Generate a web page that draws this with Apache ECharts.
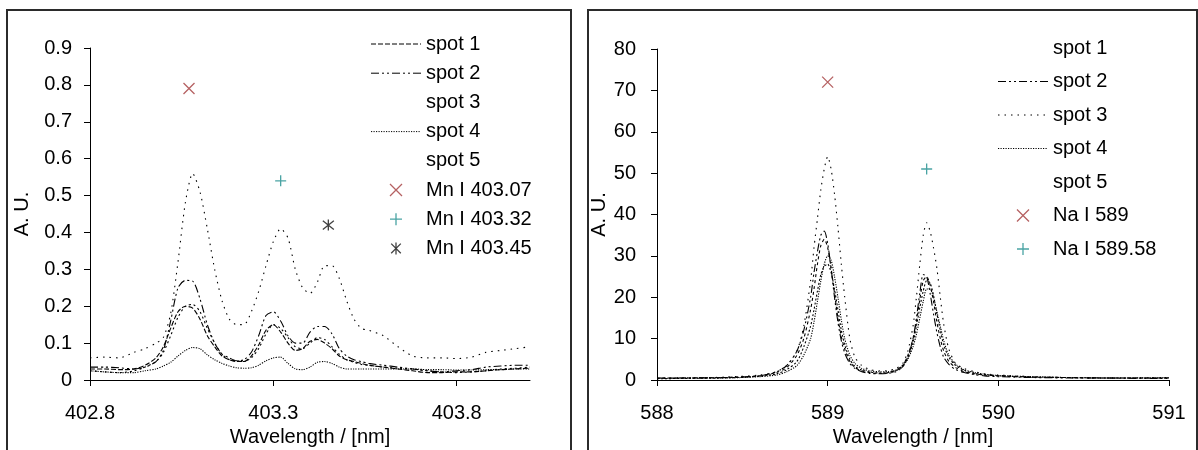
<!DOCTYPE html>
<html>
<head>
<meta charset="utf-8">
<title>Mn I and Na I emission lines</title>
<script src="https://cdn.jsdelivr.net/npm/echarts@6/dist/echarts.min.js"></script>
<style>
  html, body { margin: 0; padding: 0; background: #fff; }
  #chart { width: 1198px; height: 450px; }
</style>
</head>
<body>
<div id="chart"></div>
<script>
// ---- Mn I window (402.8 - 404.0 nm) ----
const mnWavelength = [402.80, 402.84, 402.88, 402.92, 402.95, 402.98,
  403.00, 403.02, 403.04, 403.06, 403.08, 403.10, 403.12, 403.14, 403.16, 403.18,
  403.20, 403.22, 403.24, 403.26, 403.28, 403.30, 403.32, 403.34, 403.36, 403.38,
  403.40, 403.42, 403.44, 403.46, 403.48, 403.50, 403.52, 403.54, 403.56,
  403.60, 403.64, 403.68, 403.72, 403.76, 403.80, 403.84, 403.88, 403.92, 403.96, 404.00];
const mnSpot1 = [0.030, 0.030, 0.028, 0.030, 0.040, 0.060,
  0.090, 0.140, 0.185, 0.200, 0.195, 0.165, 0.120, 0.090, 0.065, 0.055,
  0.050, 0.050, 0.065, 0.095, 0.135, 0.150, 0.130, 0.100, 0.080, 0.085,
  0.105, 0.110, 0.100, 0.085, 0.065, 0.055, 0.050, 0.045, 0.040,
  0.035, 0.030, 0.025, 0.020, 0.020, 0.022, 0.022, 0.025, 0.028, 0.030, 0.032];
const mnSpot2 = [0.035, 0.035, 0.033, 0.030, 0.035, 0.050,
  0.080, 0.160, 0.250, 0.270, 0.268, 0.220, 0.150, 0.100, 0.070, 0.060,
  0.052, 0.055, 0.075, 0.120, 0.175, 0.185, 0.160, 0.120, 0.100, 0.100,
  0.130, 0.145, 0.145, 0.125, 0.085, 0.065, 0.055, 0.050, 0.045,
  0.040, 0.035, 0.030, 0.025, 0.022, 0.025, 0.028, 0.035, 0.038, 0.040, 0.040];
const mnSpot3 = [0.025, 0.022, 0.020, 0.025, 0.035, 0.050,
  0.075, 0.120, 0.170, 0.200, 0.205, 0.185, 0.140, 0.100, 0.070, 0.055,
  0.052, 0.050, 0.060, 0.085, 0.125, 0.150, 0.140, 0.115, 0.090, 0.085,
  0.100, 0.115, 0.110, 0.090, 0.070, 0.055, 0.048, 0.042, 0.040,
  0.035, 0.032, 0.030, 0.025, 0.022, 0.020, 0.022, 0.025, 0.030, 0.032, 0.035];
const mnSpot4 = [0.025, 0.022, 0.020, 0.020, 0.025, 0.030,
  0.038, 0.048, 0.065, 0.080, 0.088, 0.085, 0.068, 0.055, 0.045, 0.038,
  0.033, 0.032, 0.033, 0.040, 0.052, 0.060, 0.062, 0.045, 0.030, 0.028,
  0.035, 0.048, 0.050, 0.045, 0.035, 0.030, 0.030, 0.030, 0.030,
  0.030, 0.030, 0.030, 0.028, 0.028, 0.027, 0.027, 0.028, 0.028, 0.030, 0.030];
const mnSpot5 = [0.060, 0.062, 0.060, 0.075, 0.085, 0.100,
  0.115, 0.180, 0.320, 0.480, 0.560, 0.510, 0.410, 0.300, 0.215, 0.165,
  0.150, 0.150, 0.185, 0.240, 0.310, 0.375, 0.410, 0.385, 0.300, 0.250,
  0.235, 0.265, 0.310, 0.310, 0.275, 0.215, 0.165, 0.140, 0.135,
  0.120, 0.090, 0.065, 0.060, 0.060, 0.058, 0.062, 0.075, 0.080, 0.085, 0.090];
const mnLineNames = ['Mn I 403.07', 'Mn I 403.32', 'Mn I 403.45'];
const mnLinePos = [403.07, 403.32, 403.45];
const mnLineVal = [0.79, 0.54, 0.42];
const mnXTicks = [402.8, 403.3, 403.8];

// ---- Na I doublet window (588 - 591 nm) ----
const naWavelength = [588.0, 588.2, 588.4, 588.6, 588.7, 588.76, 588.82, 588.86,
  588.9, 588.92, 588.94, 588.96, 588.98, 589.0, 589.02, 589.04, 589.06, 589.08,
  589.1, 589.13, 589.16, 589.2, 589.25, 589.3, 589.35, 589.4, 589.44, 589.47,
  589.5, 589.52, 589.54, 589.56, 589.58, 589.6, 589.62, 589.64, 589.66, 589.68,
  589.71, 589.75, 589.8, 589.86, 589.92, 590.0, 590.2, 590.4, 590.6, 590.8, 591.0];
const naSpot1 = [0.4, 0.5, 0.6, 1.0, 1.8, 3.0, 6.0, 10,
  17, 22, 28, 32.5, 34, 32, 27, 21, 15, 10.5,
  7.5, 4.5, 3.0, 2.2, 1.8, 1.6, 1.7, 2.2, 3.5, 6.0,
  10, 14, 19.5, 24, 25, 23, 19, 14, 10, 7.0,
  4.5, 3.0, 2.0, 1.5, 1.2, 1.0, 0.7, 0.6, 0.5, 0.5, 0.5];
const naSpot2 = [0.5, 0.5, 0.6, 1.0, 2.0, 3.5, 7.0, 12,
  20, 26, 31, 35, 36, 33, 27, 20, 14, 9.5,
  6.5, 4.0, 2.8, 2.0, 1.6, 1.5, 1.6, 2.0, 3.2, 5.5,
  10, 15, 21, 25.5, 25, 21, 16, 11.5, 8.0, 5.5,
  3.8, 2.5, 1.8, 1.3, 1.0, 0.8, 0.6, 0.5, 0.5, 0.4, 0.4];
const naSpot3 = [0.5, 0.5, 0.7, 1.2, 2.0, 3.5, 7.0, 13,
  24, 32, 39, 46, 51, 54, 51, 45, 37, 28,
  20, 10, 5.5, 3.5, 2.5, 2.2, 2.2, 2.8, 4.0, 7.0,
  13, 20, 28, 35, 38, 36, 32, 27, 20, 13.5,
  7.5, 4.0, 2.8, 2.0, 1.5, 1.2, 0.8, 0.6, 0.5, 0.5, 0.5];
const naSpot4 = [0.4, 0.5, 0.5, 0.8, 1.2, 2.0, 3.5, 6.0,
  10, 14, 19, 24, 28, 30, 29, 25, 20, 14.5,
  10, 6.0, 4.0, 2.8, 2.2, 2.0, 2.0, 2.4, 3.5, 5.0,
  8.0, 11, 15, 19, 22, 22, 20, 16.5, 13, 9.5,
  6.0, 3.8, 2.5, 1.8, 1.4, 1.1, 0.8, 0.6, 0.5, 0.5, 0.6];
const naSpot5 = [0.3, 0.4, 0.5, 0.9, 1.5, 2.5, 4.5, 8.0,
  13, 17, 21.5, 25.5, 27.5, 28, 26, 22, 17, 12,
  8.5, 5.0, 3.3, 2.4, 1.9, 1.7, 1.8, 2.3, 3.6, 5.5,
  9.0, 13, 17.5, 21.5, 24, 23.5, 20.5, 16, 12, 8.5,
  5.5, 3.5, 2.3, 1.6, 1.3, 1.0, 0.7, 0.6, 0.5, 0.5, 0.5];
const naLineNames = ['Na I 589', 'Na I 589.58'];
const naLinePos = [589, 589.58];
const naLineVal = [72, 51];
const naXTicks = [588, 589, 590, 591];

const spotNames = ['spot 1', 'spot 2', 'spot 3', 'spot 4', 'spot 5'];

// ---- styling ----
const FONT = "'Liberation Sans', Arial, sans-serif";
const INK = '#000';
// dash pattern per spot; `keyVisible` controls whether the legend shows a sample line
const mnDash = [[5, 2], [8, 3, 2, 3, 2, 3], [2, 3], [1.2, 1.3], [1.5, 5]];
const mnKeyVisible = [true, true, false, true, false];
const naDash = [[3, 3], [8, 3, 2, 3, 2, 3], [1.5, 5], [1.2, 1.3], [2, 2]];
const naKeyVisible = [false, true, true, true, false];

const SYM_CROSS = 'path://M0,0L10,10M10,0L0,10';
const SYM_PLUS = 'path://M5,0L5,10M0,5L10,5';
const SYM_STAR = 'path://M1,1L9,9M9,1L1,9M5,0L5,10';
const markerShapes = [SYM_CROSS, SYM_PLUS, SYM_STAR];
const markerColors = ['#a3393b', '#1c8c8c', '#111'];

const zip = (xs, ys) => xs.map((x, i) => [x, ys[i]]);

function spotSeries(values, wl, dash, gridIdx) {
  return values.map((vals, i) => ({
    name: spotNames[i],
    type: 'line',
    xAxisIndex: gridIdx,
    yAxisIndex: gridIdx,
    data: zip(wl, vals),
    symbol: 'none',
    showSymbol: false,
    smooth: 0.25,
    itemStyle: { color: INK },
    lineStyle: { color: INK, width: 1.1, type: dash[i] },
    emphasis: { disabled: true },
    z: 2
  }));
}

function markerSeries(names, pos, vals, gridIdx) {
  return names.map((n, i) => ({
    name: n,
    type: 'scatter',
    xAxisIndex: gridIdx,
    yAxisIndex: gridIdx,
    data: [[pos[i], vals[i]]],
    symbol: markerShapes[i],
    symbolSize: 11,
    itemStyle: { color: 'none', borderColor: markerColors[i], borderWidth: 1.3 },
    emphasis: { disabled: true },
    z: 3
  }));
}

function legendItems(dash, visible, markerNames) {
  const spots = spotNames.map((n, i) => ({
    name: n,
    // only the line sample is shown, never a point symbol
    itemStyle: { opacity: 0 },
    lineStyle: visible[i]
      ? { color: INK, width: 1, type: dash[i], opacity: 1 }
      : { color: 'rgba(0,0,0,0)', opacity: 0 }
  }));
  const marks = markerNames.map((n, i) => ({
    name: n,
    itemStyle: { color: 'none', borderColor: markerColors[i], borderWidth: 1.3 }
  }));
  return spots.concat(marks);
}

const axisCommon = {
  axisLine: { show: true, onZero: false, lineStyle: { color: INK, width: 1 } },
  axisTick: { show: true, inside: false, length: 6, lineStyle: { color: INK } },
  splitLine: { show: false },
  axisLabel: { color: INK, fontSize: 20, fontFamily: FONT },
  nameTextStyle: { color: INK, fontSize: 20, fontFamily: FONT },
  nameLocation: 'middle'
};

const legendCommon = {
  orient: 'vertical',
  itemWidth: 50,
  itemHeight: 12,
  selectedMode: false,
  textStyle: { color: INK, fontSize: 20, fontFamily: FONT, lineHeight: 20 },
  padding: 0
};

const option = {
  animation: false,
  backgroundColor: '#fff',
  graphic: [
    { type: 'rect', silent: true, shape: { x: 7, y: 10, width: 564, height: 460 },
      style: { fill: 'none', stroke: '#2b2b2b', lineWidth: 2 } },
    { type: 'rect', silent: true, shape: { x: 588, y: 10, width: 609, height: 460 },
      style: { fill: 'none', stroke: '#2b2b2b', lineWidth: 2 } }
  ],
  grid: [
    { left: 90, top: 48, width: 440, height: 332, outerBoundsMode: 'none', containLabel: false },
    { left: 657, top: 49, width: 512, height: 331, outerBoundsMode: 'none', containLabel: false }
  ],
  xAxis: [
    Object.assign({}, axisCommon, {
      type: 'value', gridIndex: 0, min: 402.8, max: 404.0,
      name: 'Wavelength / [nm]', nameGap: 47,
      axisTick: Object.assign({}, axisCommon.axisTick, { customValues: mnXTicks }),
      axisLabel: Object.assign({}, axisCommon.axisLabel, {
        customValues: mnXTicks, margin: 23, formatter: v => String(v)
      })
    }),
    Object.assign({}, axisCommon, {
      type: 'value', gridIndex: 1, min: 588, max: 591, interval: 1,
      name: 'Wavelength / [nm]', nameGap: 47,
      axisLabel: Object.assign({}, axisCommon.axisLabel, { margin: 23 })
    })
  ],
  yAxis: [
    Object.assign({}, axisCommon, {
      type: 'value', gridIndex: 0, min: 0, max: 0.9, interval: 0.1,
      name: 'A. U.', nameGap: 58,
      axisLabel: Object.assign({}, axisCommon.axisLabel, { margin: 18 })
    }),
    Object.assign({}, axisCommon, {
      type: 'value', gridIndex: 1, min: 0, max: 80, interval: 10,
      name: 'A. U.', nameGap: 46,
      axisLabel: Object.assign({}, axisCommon.axisLabel, { margin: 21 })
    })
  ],
  legend: [
    Object.assign({}, legendCommon, {
      left: 370, top: 34, itemGap: 9.2,
      data: legendItems(mnDash, mnKeyVisible, mnLineNames)
    }),
    Object.assign({}, legendCommon, {
      left: 997, top: 38, itemGap: 13.5,
      data: legendItems(naDash, naKeyVisible, naLineNames)
    })
  ],
  series: [].concat(
    spotSeries([mnSpot1, mnSpot2, mnSpot3, mnSpot4, mnSpot5], mnWavelength, mnDash, 0),
    markerSeries(mnLineNames, mnLinePos, mnLineVal, 0),
    spotSeries([naSpot1, naSpot2, naSpot3, naSpot4, naSpot5], naWavelength, naDash, 1),
    markerSeries(naLineNames, naLinePos, naLineVal, 1)
  )
};

const chart = echarts.init(document.getElementById('chart'), null, { renderer: 'canvas' });
chart.setOption(option);
</script>
</body>
</html>
